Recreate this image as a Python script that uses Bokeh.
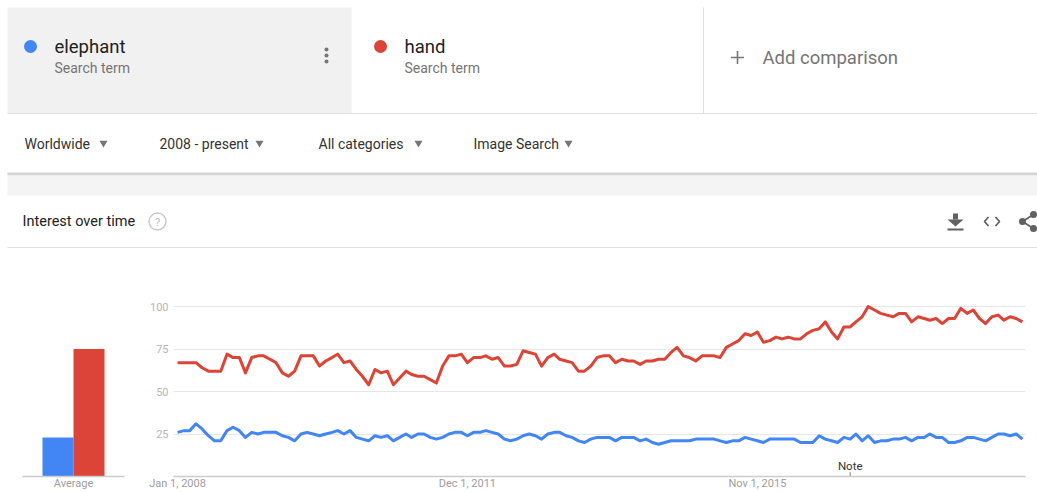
import pandas as pd
from bokeh.plotting import figure
from bokeh.layouts import column, row
from bokeh.models import Range1d, FixedTicker, CustomJSTickFormatter
from bokeh.core.properties import value
from bokeh.embed import file_html
from bokeh.resources import INLINE

# ---------------- data ----------------
terms = ["elephant", "hand"]
term_colors = ["#4285f4", "#db4437"]
term_subtitle = "Search term"
averages = [23, 75]
avg_label = "Average"
start_month = "2008-01-01"

elephant = [
    26, 27, 27, 31, 28, 24, 21, 21, 27, 29,
    27, 23, 26, 25, 26, 26, 26, 24, 23, 21,
    25, 26, 25, 24, 25, 26, 27, 25, 27, 23,
    22, 21, 24, 23, 24, 21, 23, 25, 23, 25,
    25, 23, 22, 23, 25, 26, 26, 24, 26, 26,
    27, 26, 25, 22, 21, 22, 24, 25, 24, 22,
    25, 26, 26, 24, 23, 21, 20, 22, 23, 23,
    23, 21, 23, 23, 23, 21, 22, 20, 19, 20,
    21, 21, 21, 21, 22, 22, 22, 22, 21, 20,
    21, 21, 23, 22, 21, 20, 22, 22, 22, 22,
    22, 20, 20, 20, 24, 22, 21, 20, 23, 22,
    25, 21, 24, 20, 21, 21, 22, 22, 23, 21,
    23, 23, 25, 23, 23, 20, 20, 21, 23, 23,
    22, 21, 23, 25, 25, 24, 25, 22,
]
hand = [
    67, 67, 67, 67, 64, 62, 62, 62, 72, 70,
    70, 61, 70, 71, 71, 69, 67, 61, 59, 62,
    71, 71, 71, 65, 68, 70, 72, 67, 68, 63,
    59, 54, 63, 61, 62, 54, 58, 62, 60, 59,
    59, 57, 55, 65, 71, 71, 72, 67, 70, 70,
    71, 69, 70, 65, 65, 66, 74, 73, 72, 65,
    70, 72, 69, 68, 67, 62, 62, 65, 70, 71,
    71, 67, 69, 68, 68, 66, 68, 68, 69, 69,
    73, 76, 71, 70, 68, 71, 71, 71, 70, 76,
    78, 80, 84, 83, 85, 79, 80, 82, 81, 82,
    81, 81, 84, 86, 87, 91, 85, 81, 88, 88,
    91, 94, 100, 98, 96, 95, 94, 96, 96, 91,
    94, 93, 92, 93, 90, 93, 93, 99, 96, 98,
    93, 90, 94, 95, 92, 94, 93, 91,
]
x_tick_dates = ["2008-01-01", "2011-12-01", "2015-11-01"]
y_ticks = [25, 50, 75, 100]
note_dates = ["2017-02-01"]
note_labels = ["Note"]
filters = ["Worldwide", "2008 - present", "All categories", "Image Search"]
section_title = "Interest over time"
add_label = "Add comparison"
month_names = ["Jan", "Feb", "Mar", "Apr", "May", "Jun",
               "Jul", "Aug", "Sep", "Oct", "Nov", "Dec"]

# ---------------- style ----------------
FONT = "Roboto"
W, H = 1037, 492
HEAD_H = 253
ROW_H = H - HEAD_H
BAR_W = 140
GREY_TXT = "#757575"
DARK_TXT = "#212121"
ICON = "#616161"
LINE = "#e0e0e0"

# ---------------- header (page chrome) ----------------
head = figure(width=W, height=HEAD_H, x_range=Range1d(0, W),
              y_range=Range1d(HEAD_H, 0), output_backend="svg",
              toolbar_location=None, min_border=0,
              x_axis_location=None, y_axis_location=None)
head.grid.visible = False
head.outline_line_color = None

# search-term cards
head.quad(left=7, right=351, top=7, bottom=113, fill_color="#f1f1f1", line_color=None)
head.segment(x0=[7, 703], y0=[113, 7], x1=[W, 703], y1=[113, 113],
             line_color=LINE, line_width=1)
term_x = [30, 380]
head.scatter(x=term_x, y=[46, 46], size=13, color=term_colors, line_color=None)
head.text(x=[x + 24 for x in term_x], y=[46, 46], text=terms,
          text_font=value(FONT), text_font_size="18.5px", text_color=DARK_TXT,
          text_baseline="middle", text_align="left")
head.text(x=[x + 24 for x in term_x], y=[67, 67], text=[term_subtitle] * 2,
          text_font=value(FONT), text_font_size="14px", text_color=GREY_TXT,
          text_baseline="middle", text_align="left")
head.scatter(x=[326] * 3, y=[49, 55, 61], size=4, color=GREY_TXT, line_color=None)
head.segment(x0=[730.5, 737], y0=[57, 50.5], x1=[743.5, 737], y1=[57, 63.5],
             line_color=GREY_TXT, line_width=1.6)
head.text(x=[762], y=[57], text=[add_label], text_font=value(FONT),
          text_font_size="18.5px", text_color=GREY_TXT,
          text_baseline="middle", text_align="left")

# filter row
head.text(x=[24, 159, 318, 473], y=[143] * 4, text=filters, text_font=value(FONT),
          text_font_size="14px", text_color="#333333",
          text_baseline="middle", text_align="left")
head.scatter(x=[103, 259, 418, 568], y=[142.5] * 4, marker="inverted_triangle",
             size=8, color=GREY_TXT, line_color=None)
head.quad(left=7, right=W, top=172, bottom=175, fill_color="#d4d4d4", line_color=None)
head.quad(left=7, right=W, top=175, bottom=195, fill_color="#f4f4f4", line_color=None)

# card title row
ty = 221
head.text(x=[22], y=[ty], text=[section_title], text_font=value(FONT),
          text_font_size="14.5px", text_color=DARK_TXT,
          text_baseline="middle", text_align="left")
head.scatter(x=[157], y=[ty], size=17, marker="circle", fill_color=None,
             line_color="#c8c8c8", line_width=1.4)
head.text(x=[157], y=[ty + 0.5], text=["?"], text_font=value(FONT),
          text_font_size="11px", text_color="#b8b8b8",
          text_baseline="middle", text_align="center")
# download icon
head.quad(left=952.5, right=957.5, top=ty - 8, bottom=ty - 2, color=ICON, line_color=None)
head.patch(x=[947, 963, 955], y=[ty - 2, ty - 2, ty + 5], color=ICON, line_color=None)
head.quad(left=947, right=963, top=ty + 7, bottom=ty + 9, color=ICON, line_color=None)
# code icon
head.multi_line(xs=[[988, 984, 988], [995, 999, 995]],
                ys=[[ty - 4.5, ty, ty + 4.5], [ty - 4.5, ty, ty + 4.5]],
                line_color=ICON, line_width=1.8)
# share icon
head.multi_line(xs=[[1033, 1022, 1033]], ys=[[ty - 7, ty, ty + 7]],
                line_color=ICON, line_width=1.8)
head.scatter(x=[1022, 1033, 1033], y=[ty, ty - 7, ty + 7], size=7, color=ICON, line_color=None)
head.segment(x0=[7], y0=[247], x1=[W], y1=[247], line_color=LINE, line_width=1)


def style_xaxis(ax):
    ax.axis_line_color = "#cccccc"
    ax.axis_line_width = 1.5
    ax.major_tick_line_color = None
    ax.minor_tick_line_color = None
    ax.major_tick_out = 0
    ax.major_tick_in = 0
    ax.minor_tick_out = 0
    ax.minor_tick_in = 0
    ax.major_label_standoff = 0
    ax.major_label_text_line_height = 1.0
    ax.major_label_text_font = FONT
    ax.major_label_text_font_size = "11px"
    ax.major_label_text_color = "#9e9e9e"


# ---------------- averages bar chart ----------------
TOP, BOTTOM = 48, 15
y_end = 103.0
bp = figure(width=BAR_W, height=ROW_H, x_range=Range1d(-1.645, 1.645),
            y_range=Range1d(0, y_end), y_axis_location=None,
            output_backend="svg", toolbar_location=None,
            min_border_left=22, min_border_right=16,
            min_border_top=TOP, min_border_bottom=BOTTOM)
bar_x = [i - (len(terms) - 1) / 2 for i in range(len(terms))]
bp.vbar(x=bar_x, top=averages, bottom=0, width=1.0, fill_color=term_colors, line_color=None)
bp.grid.visible = False
bp.outline_line_color = None
bp.xaxis.ticker = FixedTicker(ticks=[0])
bp.xaxis.formatter = CustomJSTickFormatter(args=dict(lab=avg_label), code="return lab;")
style_xaxis(bp.xaxis[0])

# ---------------- interest over time ----------------
dates = pd.date_range(start_month, periods=len(hand), freq="MS")
lp = figure(width=W - BAR_W, height=ROW_H, x_axis_type="datetime",
            x_range=Range1d(pd.Timestamp("2007-12-12"), pd.Timestamp("2019-06-16")),
            y_range=Range1d(0, y_end), output_backend="svg", toolbar_location=None,
            min_border_left=33, min_border_right=12,
            min_border_top=TOP, min_border_bottom=BOTTOM)
lp.outline_line_color = None
lp.xgrid.visible = False
lp.ygrid.ticker = FixedTicker(ticks=y_ticks)
lp.ygrid.grid_line_color = "#e6e6e6"
lp.ygrid.grid_line_width = 1

lp.line(dates, elephant, line_color=term_colors[0], line_width=3, line_join="round")
lp.line(dates, hand, line_color=term_colors[1], line_width=3, line_join="round")

note_x = pd.to_datetime(note_dates)
lp.segment(x0=note_x, y0=[0] * len(note_x), x1=note_x, y1=[2.5] * len(note_x),
           line_color="#777777", line_width=1)
lp.text(x=note_x, y=[6] * len(note_x), text=note_labels, text_font=value(FONT),
        text_font_size="11.5px", text_color="#333333",
        text_baseline="middle", text_align="center")

lp.xaxis.ticker = FixedTicker(ticks=[pd.Timestamp(d).value / 1e6 for d in x_tick_dates])
lp.xaxis.formatter = CustomJSTickFormatter(args=dict(months=month_names), code="""
const d = new Date(tick);
return months[d.getUTCMonth()] + " " + d.getUTCDate() + ", " + d.getUTCFullYear();
""")
style_xaxis(lp.xaxis[0])

lp.yaxis.ticker = FixedTicker(ticks=y_ticks)
lp.yaxis.axis_line_color = None
lp.yaxis.major_tick_line_color = None
lp.yaxis.minor_tick_line_color = None
lp.yaxis.major_tick_out = 0
lp.yaxis.minor_tick_out = 0
lp.yaxis.major_label_standoff = 5
lp.yaxis.major_label_text_font = FONT
lp.yaxis.major_label_text_font_size = "11px"
lp.yaxis.major_label_text_color = "#b5b5b5"

layout = column(head, row(bp, lp, spacing=0), spacing=0)
open("out.html", "w").write(file_html(layout, INLINE, title="Google Trends: elephant vs hand"))
